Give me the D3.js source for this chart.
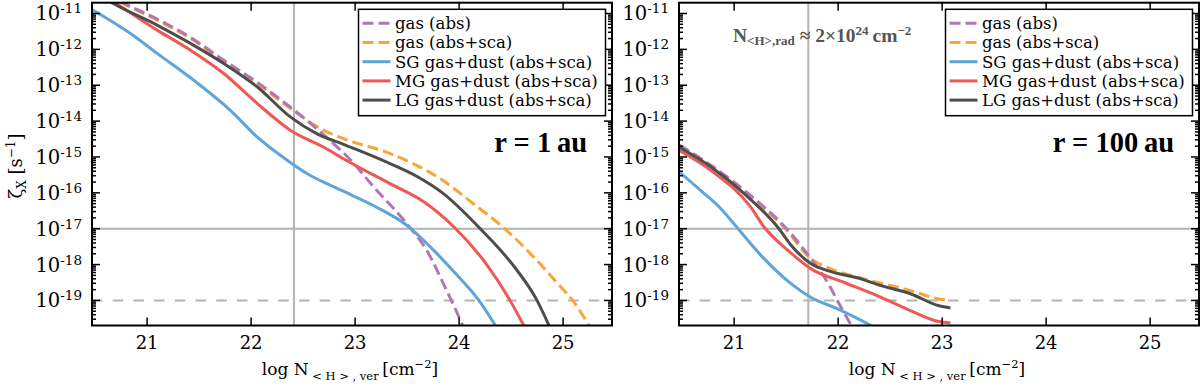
<!DOCTYPE html>
<html>
<head>
<meta charset="utf-8">
<script src="https://cdn.jsdelivr.net/npm/d3@7"></script>
<style>
body { margin: 0; background: #fff; }
svg { display: block; }
text { font-family: "DejaVu Serif", serif; fill: #000; }
</style>
</head>
<body>
<svg id="chart" width="1200" height="387"></svg>
<script>
// values: log10 N (x) and log10 zeta (y)

// r = 1 au
var au1GasAbsN    = [20.47, 20.74, 21.10, 21.42, 21.74, 22.06, 22.35, 22.63, 22.83, 22.93, 23.18, 23.50, 23.69, 23.85, 24.00, 24.05];
var au1GasAbsZ    = [-10.22, -10.66, -11.16, -11.67, -12.31, -12.92, -13.55, -14.21, -14.73, -15.00, -15.84, -16.87, -17.61, -18.54, -19.47, -19.80];
var au1GasScaN    = [20.47, 20.74, 21.10, 21.42, 21.74, 22.06, 22.38, 22.70, 22.90, 23.34, 23.82, 24.14, 24.45, 24.72, 24.94, 25.10, 25.27];
var au1GasScaZ    = [-10.25, -10.68, -11.19, -11.70, -12.35, -12.96, -13.65, -14.26, -14.50, -14.91, -15.61, -16.31, -17.03, -17.80, -18.50, -19.03, -19.80];
var au1SgN        = [20.47, 20.84, 21.10, 21.51, 21.80, 22.06, 22.35, 22.54, 22.86, 23.18, 23.50, 23.72, 23.95, 24.19, 24.37];
var au1SgZ        = [-10.89, -11.56, -12.12, -13.00, -13.70, -14.45, -15.10, -15.47, -15.92, -16.36, -16.91, -17.50, -18.20, -19.00, -19.80];
var au1MgN        = [20.47, 20.68, 21.10, 21.42, 21.74, 22.06, 22.38, 22.70, 22.90, 23.34, 23.66, 23.96, 24.26, 24.48, 24.64];
var au1MgZ        = [-10.30, -10.68, -11.47, -12.03, -12.68, -13.51, -14.26, -14.73, -15.07, -15.75, -16.25, -16.98, -17.98, -18.95, -19.80];
var au1LgN        = [20.47, 20.65, 21.10, 21.42, 21.74, 22.06, 22.38, 22.63, 22.90, 23.34, 23.60, 23.84, 24.21, 24.53, 24.74, 24.88];
var au1LgZ        = [-10.35, -10.68, -11.33, -11.84, -12.40, -13.05, -13.89, -14.35, -14.66, -15.19, -15.55, -16.00, -17.02, -18.06, -18.95, -19.80];

// r = 100 au
var au100GasAbsN  = [20.475, 20.84, 21.16, 21.52, 21.74, 21.87, 22.03, 22.13, 22.16];
var au100GasAbsZ  = [-14.67, -15.36, -16.08, -17.05, -17.84, -18.36, -19.20, -19.71, -19.85];
var au100GasScaN  = [20.475, 20.84, 21.16, 21.48, 21.74, 21.93, 22.25, 22.70, 22.97, 23.08];
var au100GasScaZ  = [-14.69, -15.38, -16.12, -16.96, -17.84, -18.12, -18.40, -18.73, -18.96, -19.00];
var au100SgN      = [20.475, 20.68, 20.875, 21.00, 21.26, 21.55, 21.74, 22.00, 22.32, 22.40];
var au100SgZ      = [-15.42, -15.94, -16.45, -16.87, -17.75, -18.54, -18.92, -19.24, -19.71, -19.85];
var au100MgN      = [20.475, 20.78, 21.16, 21.29, 21.52, 21.74, 22.06, 22.38, 22.70, 22.97, 23.08];
var au100MgZ      = [-14.82, -15.38, -16.40, -16.96, -17.61, -18.12, -18.50, -18.87, -19.29, -19.59, -19.63];
var au100LgN      = [20.475, 20.78, 21.10, 21.42, 21.55, 21.74, 21.90, 22.22, 22.38, 22.70, 22.97, 23.08];
var au100LgZ      = [-14.73, -15.28, -16.03, -16.96, -17.47, -17.98, -18.17, -18.40, -18.56, -18.82, -19.15, -19.21];

var legendLabels = ['gas (abs)', 'gas (abs+sca)', 'SG gas+dust (abs+sca)', 'MG gas+dust (abs+sca)', 'LG gas+dust (abs+sca)'];
var colors = ['#B276B2', '#FAA43A', '#5DA5DA', '#F15854', '#4D4D4D'];
var xTicks = [21, 22, 23, 24, 25];
var yTickExp = [-11, -12, -13, -14, -15, -16, -17, -18, -19];
var panelLabels = ['r = 1\u2009au', 'r = 100\u2009au'];
var vLines = [22.412, 21.713];   // grey vertical guide per panel
var hLine = 1e-17, hDash = 1e-19;

var panels = [
    [[au1GasScaN, au1GasScaZ, 1], [au1GasAbsN, au1GasAbsZ, 0], [au1SgN, au1SgZ, 2], [au1MgN, au1MgZ, 3], [au1LgN, au1LgZ, 4]],
    [[au100GasScaN, au100GasScaZ, 1], [au100GasAbsN, au100GasAbsZ, 0], [au100SgN, au100SgZ, 2], [au100MgN, au100MgZ, 3], [au100LgN, au100LgZ, 4]]
];

var svg = d3.select('#chart');
var plotTop = 2.7, plotBottom = 325.5, pw = 520;
var lefts = [92, 679];

var yScale = d3.scaleLog().domain([2e-20, 2e-11]).range([plotBottom, plotTop]);

// minor tick values 2..9 x 10^n
var minor = [];
for (var n = -20; n <= -12; n++) {
    for (var k = 2; k <= 9; k++) {
        var v = k * Math.pow(10, n);
        if (v > 2e-20 && v < 2e-11) minor.push(v);
    }
}

panels.forEach(function (series, p) {
    var x0 = lefts[p];
    var xScale = d3.scaleLinear().domain([20.47, 25.47]).range([x0, x0 + pw]);
    var g = svg.append('g');

    g.append('clipPath').attr('id', 'clip' + p)
        .append('rect').attr('x', x0).attr('y', plotTop).attr('width', pw).attr('height', plotBottom - plotTop);

    // grey guide lines
    g.append('line').attr('x1', x0).attr('x2', x0 + pw)
        .attr('y1', yScale(hLine)).attr('y2', yScale(hLine))
        .attr('stroke', '#b3b3b3').attr('stroke-width', 2);
    g.append('line').attr('x1', x0).attr('x2', x0 + pw)
        .attr('y1', yScale(hDash)).attr('y2', yScale(hDash))
        .attr('stroke', '#b3b3b3').attr('stroke-width', 2).attr('stroke-dasharray', '10.5,10.2');
    g.append('line').attr('x1', xScale(vLines[p])).attr('x2', xScale(vLines[p]))
        .attr('y1', plotTop).attr('y2', plotBottom)
        .attr('stroke', '#b3b3b3').attr('stroke-width', 2);

    var line = d3.line()
        .x(function (d) { return xScale(d[0]); })
        .y(function (d) { return yScale(Math.pow(10, d[1])); })
        .curve(d3.curveMonotoneX);

    var lines = g.append('g').attr('clip-path', 'url(#clip' + p + ')');
    series.forEach(function (s) {
        var pts = s[0].map(function (x, i) { return [x, s[1][i]]; });
        lines.append('path')
            .attr('d', line(pts))
            .attr('fill', 'none')
            .attr('stroke', colors[s[2]])
            .attr('stroke-width', 3)
            .attr('stroke-dasharray', s[2] < 2 ? '11,5' : null);
    });

    // ticks (inward, all four sides)
    var ticks = g.append('g').attr('stroke', '#000').attr('stroke-width', 1.5);
    xTicks.forEach(function (t) {
        ticks.append('line').attr('x1', xScale(t)).attr('x2', xScale(t)).attr('y1', plotBottom).attr('y2', plotBottom - 8);
        ticks.append('line').attr('x1', xScale(t)).attr('x2', xScale(t)).attr('y1', plotTop).attr('y2', plotTop + 8);
    });
    yTickExp.forEach(function (e) {
        var y = yScale(Math.pow(10, e));
        ticks.append('line').attr('x1', x0).attr('x2', x0 + 8).attr('y1', y).attr('y2', y);
        ticks.append('line').attr('x1', x0 + pw).attr('x2', x0 + pw - 8).attr('y1', y).attr('y2', y);
    });
    minor.forEach(function (v) {
        var y = yScale(v);
        ticks.append('line').attr('x1', x0).attr('x2', x0 + 4).attr('y1', y).attr('y2', y);
        ticks.append('line').attr('x1', x0 + pw).attr('x2', x0 + pw - 4).attr('y1', y).attr('y2', y);
    });

    // frame
    g.append('rect').attr('x', x0).attr('y', plotTop).attr('width', pw).attr('height', plotBottom - plotTop)
        .attr('fill', 'none').attr('stroke', '#000').attr('stroke-width', 2);

    // tick labels
    xTicks.forEach(function (t) {
        g.append('text').attr('x', xScale(t)).attr('y', 349).attr('text-anchor', 'middle')
            .attr('font-size', 18).text(t);
    });
    yTickExp.forEach(function (e) {
        var y = yScale(Math.pow(10, e));
        var t = g.append('text').attr('x', x0 - 10).attr('y', y + 7).attr('text-anchor', 'end').attr('font-size', 19.5);
        t.append('tspan').text('10');
        t.append('tspan').attr('dy', -7).attr('font-size', 13.5).text('-' + (-e));
    });

    // x label
    var xl = g.append('text').attr('x', x0 + pw / 2 - 2).attr('y', 375).attr('text-anchor', 'middle').attr('font-size', 17);
    xl.append('tspan').text('log N');
    xl.append('tspan').attr('dy', 5).attr('font-size', 11.5).text(' < H > , ver ');
    xl.append('tspan').attr('dy', -5).text('[cm');
    xl.append('tspan').attr('dy', -7).attr('font-size', 11.5).text('−2');
    xl.append('tspan').attr('dy', 7).text(']');

    // panel label
    g.append('text').attr('x', x0 + pw - 25).attr('y', 152).attr('text-anchor', 'end')
        .style('font-family', '"Liberation Serif", serif').attr('font-weight', 'bold')
        .attr('font-size', 28.5).text(panelLabels[p]);

    // legend
    var lx = x0 + pw - 253.5, ly = 9.3;
    var lg = g.append('g');
    lg.append('rect').attr('x', lx).attr('y', ly).attr('width', 247).attr('height', 106.4)
        .attr('fill', '#fff').attr('stroke', '#000').attr('stroke-width', 1.5);
    legendLabels.forEach(function (lab, i) {
        var y = ly + 14 + i * 19.2;
        lg.append('line').attr('x1', lx + 4).attr('x2', lx + 32).attr('y1', y).attr('y2', y)
            .attr('stroke', colors[i]).attr('stroke-width', 3)
            .attr('stroke-dasharray', i < 2 ? '11,5' : null);
        lg.append('text').attr('x', lx + 36.5).attr('y', y + 5.8).attr('font-size', 16.5).text(lab);
    });
});

// y label
var yl = svg.append('text').attr('transform', 'translate(22,166) rotate(-90)')
    .attr('text-anchor', 'middle').attr('font-size', 18);
yl.append('tspan').text('ζ');
yl.append('tspan').attr('dy', 4).attr('font-size', 12).text('X');
yl.append('tspan').attr('dy', -4).text(' [s');
yl.append('tspan').attr('dy', -7).attr('font-size', 12).text('−1');
yl.append('tspan').attr('dy', 7).text(']');

// radial column density note (right panel)
var note = svg.append('text').attr('x', 733).attr('y', 42)
    .style('font-family', '"Liberation Serif", serif').attr('font-weight', 'bold').attr('font-size', 19.5)
    .style('fill', '#555');
note.append('tspan').text('N');
note.append('tspan').attr('dy', 3).attr('font-size', 13).text('<H>,rad');
note.append('tspan').attr('dy', -3).text(' ≈ 2×10');
note.append('tspan').attr('dy', -7).attr('font-size', 13).text('24');
note.append('tspan').attr('dy', 7).text('\u2009cm');
note.append('tspan').attr('dy', -7).attr('font-size', 13).text('−2');
</script>
</body>
</html>
